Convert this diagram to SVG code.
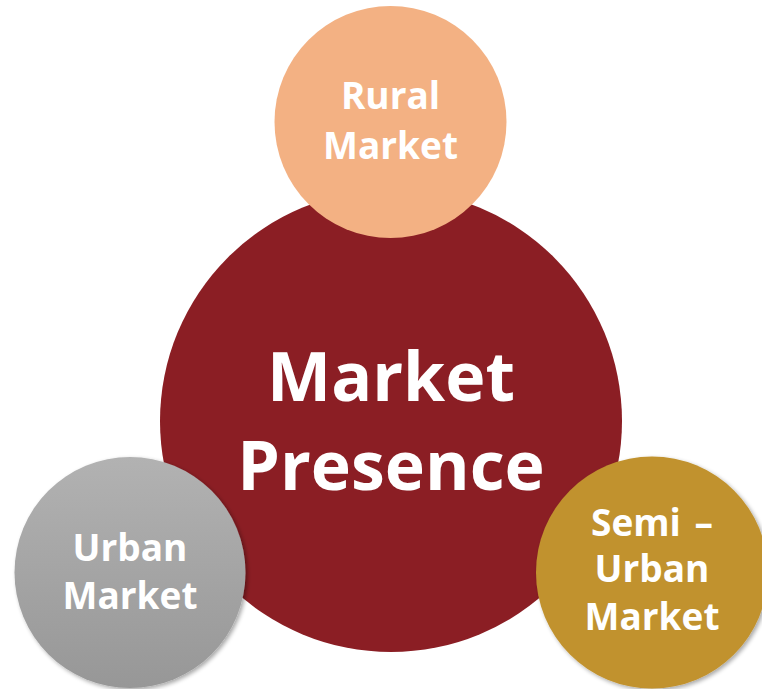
<svg xmlns="http://www.w3.org/2000/svg" width="762" height="689" viewBox="0 0 762 689">
<style>
.t{font-family:"Open Sans","Liberation Sans",sans-serif;font-weight:bold;fill:#ffffff;text-anchor:middle}
.s{font-size:37px}
.b{font-size:68px}
</style>
<defs>
<linearGradient id="gUrban" x1="0" y1="0" x2="0" y2="1">
<stop offset="0" stop-color="#b2b2b2"/>
<stop offset="1" stop-color="#979797"/>
</linearGradient>
<filter id="sh" x="-20%" y="-20%" width="140%" height="140%">
<feGaussianBlur in="SourceAlpha" stdDeviation="2"/>
<feOffset dx="1.5" dy="2" result="o"/>
<feComponentTransfer><feFuncA type="linear" slope="0.35"/></feComponentTransfer>
<feMerge><feMergeNode/><feMergeNode in="SourceGraphic"/></feMerge>
</filter>
</defs>
<rect width="762" height="689" fill="#ffffff"/>
<g id="connectors"></g>
<g id="market-presence">
<circle cx="391" cy="421" r="231" fill="#8b1e24"/>
<text class="t b" x="391" y="401">Market</text>
<text class="t b" x="391" y="490">Presence</text>
</g>
<g id="rural-market">
<circle cx="390.5" cy="122" r="116" fill="#f3b183"/>
<text class="t s" x="390.5" y="109">Rural</text>
<text class="t s" x="390.5" y="159">Market</text>
</g>
<g id="urban-market">
<circle cx="130" cy="572.5" r="115.5" fill="url(#gUrban)" filter="url(#sh)"/>
<text class="t s" x="130" y="561">Urban</text>
<text class="t s" x="130" y="609">Market</text>
</g>
<g id="semi-urban-market">
<circle cx="652" cy="572.5" r="116" fill="#c1922f" filter="url(#sh)"/>
<text class="t s" x="652" y="536" word-spacing="4">Semi –</text>
<text class="t s" x="652" y="582">Urban</text>
<text class="t s" x="652" y="630">Market</text>
</g>
</svg>
